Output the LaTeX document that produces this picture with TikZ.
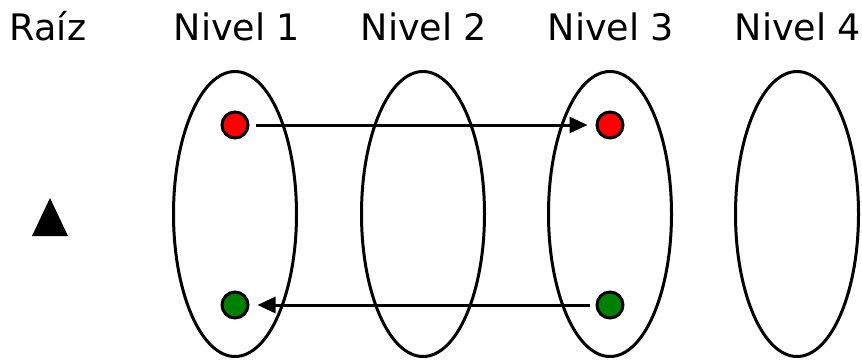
\documentclass[tikz,border=0pt]{standalone}
\usepackage{fontspec}
\setmainfont{DejaVu Sans}
\usetikzlibrary{arrows.meta,shapes.geometric}
\begin{document}
\begin{tikzpicture}[x=1pt,y=-1pt,
  label/.style={font=\fontsize{36.5}{40}\selectfont, anchor=base, inner sep=0pt},
  level/.style={draw=black, line width=3pt, ellipse, minimum width=123pt, minimum height=285pt, inner sep=0pt},
  dot/.style={circle, draw=black, line width=3pt, minimum size=26pt, inner sep=0pt},
  link/.style={line width=3pt, -{Triangle[length=18pt,width=16pt]}, shorten <=6pt, shorten >=8pt}
]
\useasboundingbox (0,0) rectangle (862,361);

% column headings
\node[label] (troot) at (48,41) {Raíz};
\node[label] (t1) at (237,41) {Nivel 1};
\node[label] (t2) at (424,41) {Nivel 2};
\node[label] (t3) at (611,41) {Nivel 3};
\node[label] (t4) at (798,41) {Nivel 4};

% root marker
\fill[black, line join=round] (32,236) -- (50,198) -- (68,236) -- cycle;

% one ellipse per level
\node[level] (e1) at (235,214) {};
\node[level] (e2) at (423,214) {};
\node[level] (e3) at (610,214) {};
\node[level] (e4) at (797,214) {};

% elements inside the levels
\node[dot, fill=red] (r1) at (235,125) {};
\node[dot, fill=red] (r3) at (610,125) {};
\node[dot, fill={rgb,255:red,0;green,128;blue,0}] (g1) at (235,305) {};
\node[dot, fill={rgb,255:red,0;green,128;blue,0}] (g3) at (610,305) {};

% links between levels
\draw[link] (r1) -- (r3);
\draw[link] (g3) -- (g1);
\end{tikzpicture}
\end{document}
